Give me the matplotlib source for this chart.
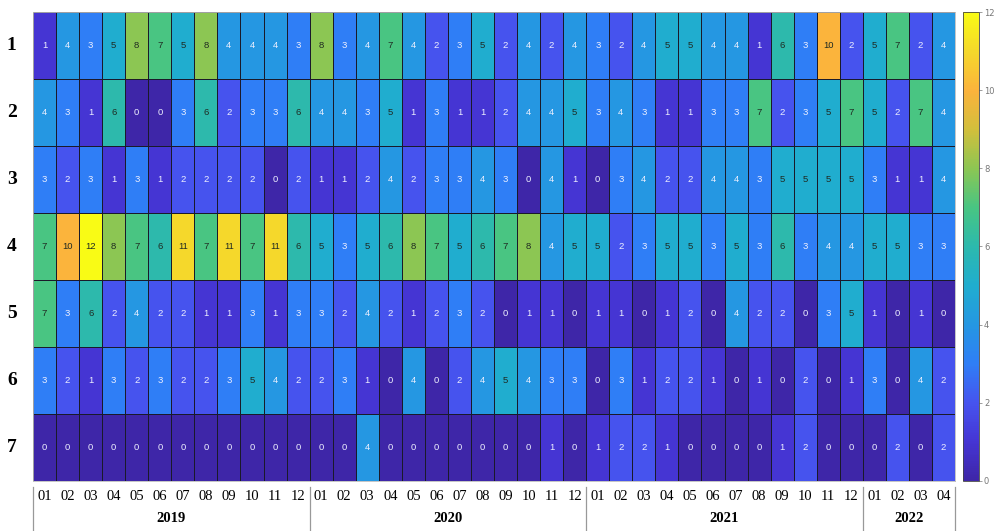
import numpy as np
import matplotlib
matplotlib.use('Agg')
import matplotlib.pyplot as plt
from matplotlib.colors import LinearSegmentedColormap
import matplotlib.transforms as mtransforms

# monthly counts per group, Jan 2019 - Apr 2022
row_labels = ['1', '2', '3', '4', '5', '6', '7']
years = ['2019', '2020', '2021', '2022']
months_per_year = [12, 12, 12, 4]

g1 = [1, 4, 3, 5, 8, 7, 5, 8, 4, 4, 4, 3, 8, 3, 4, 7, 4, 2, 3, 5, 2, 4, 2, 4,
      3, 2, 4, 5, 5, 4, 4, 1, 6, 3, 10, 2, 5, 7, 2, 4]
g2 = [4, 3, 1, 6, 0, 0, 3, 6, 2, 3, 3, 6, 4, 4, 3, 5, 1, 3, 1, 1, 2, 4, 4, 5,
      3, 4, 3, 1, 1, 3, 3, 7, 2, 3, 5, 7, 5, 2, 7, 4]
g3 = [3, 2, 3, 1, 3, 1, 2, 2, 2, 2, 0, 2, 1, 1, 2, 4, 2, 3, 3, 4, 3, 0, 4, 1,
      0, 3, 4, 2, 2, 4, 4, 3, 5, 5, 5, 5, 3, 1, 1, 4]
g4 = [7, 10, 12, 8, 7, 6, 11, 7, 11, 7, 11, 6, 5, 3, 5, 6, 8, 7, 5, 6, 7, 8, 4, 5,
      5, 2, 3, 5, 5, 3, 5, 3, 6, 3, 4, 4, 5, 5, 3, 3]
g5 = [7, 3, 6, 2, 4, 2, 2, 1, 1, 3, 1, 3, 3, 2, 4, 2, 1, 2, 3, 2, 0, 1, 1, 0,
      1, 1, 0, 1, 2, 0, 4, 2, 2, 0, 3, 5, 1, 0, 1, 0]
g6 = [3, 2, 1, 3, 2, 3, 2, 2, 3, 5, 4, 2, 2, 3, 1, 0, 4, 0, 2, 4, 5, 4, 3, 3,
      0, 3, 1, 2, 2, 1, 0, 1, 0, 2, 0, 1, 3, 0, 4, 2]
g7 = [0, 0, 0, 0, 0, 0, 0, 0, 0, 0, 0, 0, 0, 0, 4, 0, 0, 0, 0, 0, 0, 0, 1, 0,
      1, 2, 2, 1, 0, 0, 0, 0, 1, 2, 0, 0, 0, 2, 0, 2]

data = np.array([g1, g2, g3, g4, g5, g6, g7])
month_labels = [f'{m:02d}' for n in months_per_year for m in range(1, n + 1)]

# parula-like colormap
parula_pts = ['#3e26a8', '#4535d4', '#4654ef', '#2f7ef6', '#2597e2', '#20adcf',
              '#2cb9ad', '#48c583', '#8cc653', '#d2bf3c', '#fbb33c', '#f5d82b',
              '#f9fb15']
cmap = LinearSegmentedColormap.from_list('parula', parula_pts, N=256)

fig = plt.figure(figsize=(9.97, 5.31), dpi=100)
ax = fig.add_axes([0.0331, 0.0942, 0.9248, 0.8832])
cax = fig.add_axes([0.9655, 0.0942, 0.0165, 0.8832])

nrow, ncol = data.shape
mesh = ax.pcolormesh(np.arange(ncol + 1), np.arange(nrow + 1), data, cmap=cmap,
                     vmin=0, vmax=12, edgecolors='#1a1a2a', linewidth=0.6)
ax.set_xlim(0, ncol)
ax.set_ylim(nrow, 0)
ax.set_xticks([])
ax.set_yticks([])
for s in ax.spines.values():
    s.set_color('#bbbbbb')
    s.set_linewidth(0.6)

# values in the cells
for i in range(nrow):
    for j in range(ncol):
        v = data[i, j]
        ax.text(j + 0.5, i + 0.5, str(v), ha='center', va='center',
                fontsize=6.8, family='Liberation Sans',
                color='#1f2a22' if v >= 5 else '#eef0ff')

# row labels
for i, lab in enumerate(row_labels):
    ax.text(-0.023, 1 - (i + 0.5) / nrow, lab, transform=ax.transAxes,
            ha='center', va='center', fontsize=14, fontweight='bold',
            family='Liberation Serif')

# month and year labels below the grid
trans = mtransforms.blended_transform_factory(ax.transData, ax.transAxes)
for j, lab in enumerate(month_labels):
    ax.text(j + 0.5, -0.034, lab, transform=trans, ha='center', va='center',
            fontsize=10.5, family='Liberation Serif')

edges = np.concatenate([[0], np.cumsum(months_per_year)])
for k, yr in enumerate(years):
    mid = (edges[k] + edges[k + 1]) / 2
    ax.text(mid, -0.081, yr, transform=trans, ha='center', va='center',
            fontsize=10.5, fontweight='bold', family='Liberation Serif')
for e in edges:
    ax.plot([e, e], [-0.013, -0.107], transform=trans, color='#999999',
            lw=0.9, clip_on=False)

# colorbar
cb = fig.colorbar(mesh, cax=cax, ticks=np.arange(0, 13, 2))
cb.outline.set_edgecolor('#444444')
cb.outline.set_linewidth(0.6)
cax.tick_params(labelsize=6, colors='#777777', length=2, width=0.5, pad=1.5)

fig.savefig('out.png', dpi=100)
